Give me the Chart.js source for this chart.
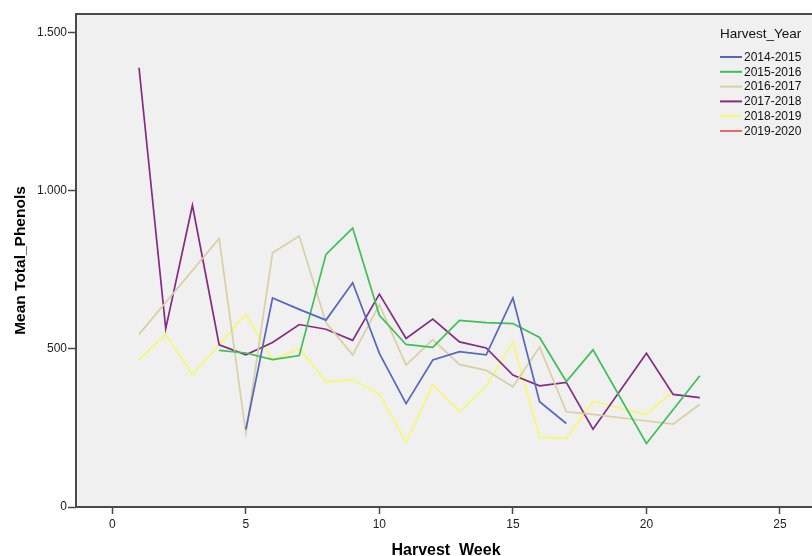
<!DOCTYPE html>
<html>
<head>
<meta charset="utf-8">
<script src="https://cdn.jsdelivr.net/npm/chart.js@4/dist/chart.umd.min.js"></script>
<style>
  html, body { margin: 0; padding: 0; background: #ffffff; overflow: hidden; }
  #wrap { width: 812px; height: 556px; position: relative; }
</style>
</head>
<body>
<div id="wrap"><canvas id="c" width="812" height="556"></canvas></div>
<script>
// Harvest weeks on the x axis
const weeks = [1, 2, 3, 4, 5, 6, 7, 8, 9, 10, 11, 12, 13, 14, 15, 16, 17, 18, 19, 20, 21, 22];

// Mean total phenols per harvest week, one array per harvest year (null = no sample)
const y2014_2015 = [null, null, null, null, 245, 661, 625, 591, 709, 486, 327, 465, 491, 481, 661, 333, 264, null, null, null, null, null];
const y2015_2016 = [null, null, null, 495, 487, 466, 479, 799, 882, 606, 514, 505, 590, 583, 580, 536, 397, 497, null, 201, null, 415];
const y2016_2017 = [546, null, null, 849, 234, 804, 857, 583, 481, 640, 449, 529, 451, 432, 380, 506, 301, 293, null, 272, 262, 325];
const y2017_2018 = [1389, 564, 954, 513, 481, 520, 577, 562, 527, 673, 533, 594, 522, 503, 417, 383, 394, 246, null, 486, 356, 346];
const y2018_2019 = [465, 546, 418, null, 610, 464, 502, 396, 403, 357, 204, 387, 302, 381, 522, 220, 217, 334, null, 293, 366, null];
const y2019_2020 = [null, null, null, null, null, null, null, null, null, null, null, null, null, null, null, null, null, null, null, null, null, null];

const yearLabels = ['2014-2015', '2015-2016', '2016-2017', '2017-2018', '2018-2019', '2019-2020'];
const yearValues = [y2014_2015, y2015_2016, y2016_2017, y2017_2018, y2018_2019, y2019_2020];
const yearColors = ['#5468bd', '#3fbf55', '#d8cfa2', '#852a85', '#f8f770', '#e86a6a'];

const xTicks = [0, 5, 10, 15, 20, 25];
const yTicks = [0, 500, 1000, 1500];

const FONT = '"Liberation Sans", Arial, sans-serif';
const FRAME = '#4a4a4a';

const datasets = yearLabels.map((lab, i) => ({
  label: lab,
  data: weeks.map((w, k) => ({ x: w, y: yearValues[i][k] })),
  borderColor: yearColors[i],
  backgroundColor: yearColors[i],
  borderWidth: 1.7,
  pointRadius: 0,
  tension: 0,
  spanGaps: true,
  fill: false
}));

// Grey plot background, frame, axis titles and the legend block
const decor = {
  id: 'decor',
  beforeDraw(chart) {
    const { ctx, chartArea: a } = chart;
    ctx.save();
    ctx.fillStyle = '#f0f0f0';
    ctx.fillRect(a.left, a.top, a.right - a.left, a.bottom - a.top);
    ctx.restore();
  },
  afterDatasetsDraw(chart) {
    const { ctx, chartArea: a } = chart;
    ctx.save();
    ctx.strokeStyle = FRAME;
    ctx.lineWidth = 2;
    ctx.beginPath();
    ctx.moveTo(chart.width, a.top);
    ctx.lineTo(a.left, a.top);
    ctx.lineTo(a.left, a.bottom);
    ctx.lineTo(chart.width, a.bottom);
    ctx.stroke();

    // axis titles
    ctx.fillStyle = '#000';
    ctx.font = 'bold 16px ' + FONT;
    ctx.textAlign = 'center';
    ctx.textBaseline = 'alphabetic';
    ctx.fillText('Harvest_Week', (a.left + a.right) / 2 + 2, 555);

    ctx.save();
    ctx.translate(25, (a.top + a.bottom) / 2);
    ctx.rotate(-Math.PI / 2);
    ctx.font = 'bold 15.5px ' + FONT;
    ctx.fillText('Mean Total_Phenols', 0, 0);
    ctx.restore();

    // legend
    ctx.textAlign = 'left';
    ctx.textBaseline = 'middle';
    ctx.fillStyle = '#111';
    ctx.font = '13.5px ' + FONT;
    ctx.fillText('Harvest_Year', 720, 34);
    ctx.font = '12px ' + FONT;
    yearLabels.forEach((lab, i) => {
      const y = 57 + i * 14.8;
      ctx.strokeStyle = yearColors[i];
      ctx.lineWidth = 2;
      ctx.beginPath();
      ctx.moveTo(720, y);
      ctx.lineTo(742, y);
      ctx.stroke();
      ctx.fillStyle = '#111';
      ctx.fillText(lab, 744, y + 0.5);
    });
    ctx.restore();
  }
};

new Chart(document.getElementById('c'), {
  type: 'line',
  data: { datasets },
  plugins: [decor],
  options: {
    responsive: false,
    animation: false,
    layout: { padding: { top: 14, right: 0, left: 0, bottom: 0 } },
    plugins: { legend: { display: false }, tooltip: { enabled: false }, title: { display: false } },
    scales: {
      x: {
        type: 'linear',
        min: -1.36,
        max: 26.2,
        afterFit(s) { s.height = 49; },
        afterBuildTicks(s) { s.ticks = xTicks.map(v => ({ value: v })); },
        grid: { drawOnChartArea: false, drawTicks: true, tickLength: 7, tickColor: FRAME, tickWidth: 1.5 },
        border: { display: false },
        ticks: {
          padding: 3,
          color: '#222',
          font: { family: FONT, size: 12 },
          maxRotation: 0,
          autoSkip: false,
          callback: v => String(v)
        }
      },
      y: {
        type: 'linear',
        min: 0,
        max: 1559,
        afterFit(s) { s.width = 76; },
        afterBuildTicks(s) { s.ticks = yTicks.map(v => ({ value: v })); },
        grid: { drawOnChartArea: false, drawTicks: true, tickLength: 8, tickColor: FRAME, tickWidth: 1.5 },
        border: { display: false },
        ticks: {
          padding: 1,
          color: '#222',
          font: { family: FONT, size: 12 },
          autoSkip: false,
          callback: v => v >= 1000 ? Math.floor(v / 1000) + '.' + String(v % 1000).padStart(3, '0') : String(v)
        }
      }
    }
  }
});
</script>
</body>
</html>
